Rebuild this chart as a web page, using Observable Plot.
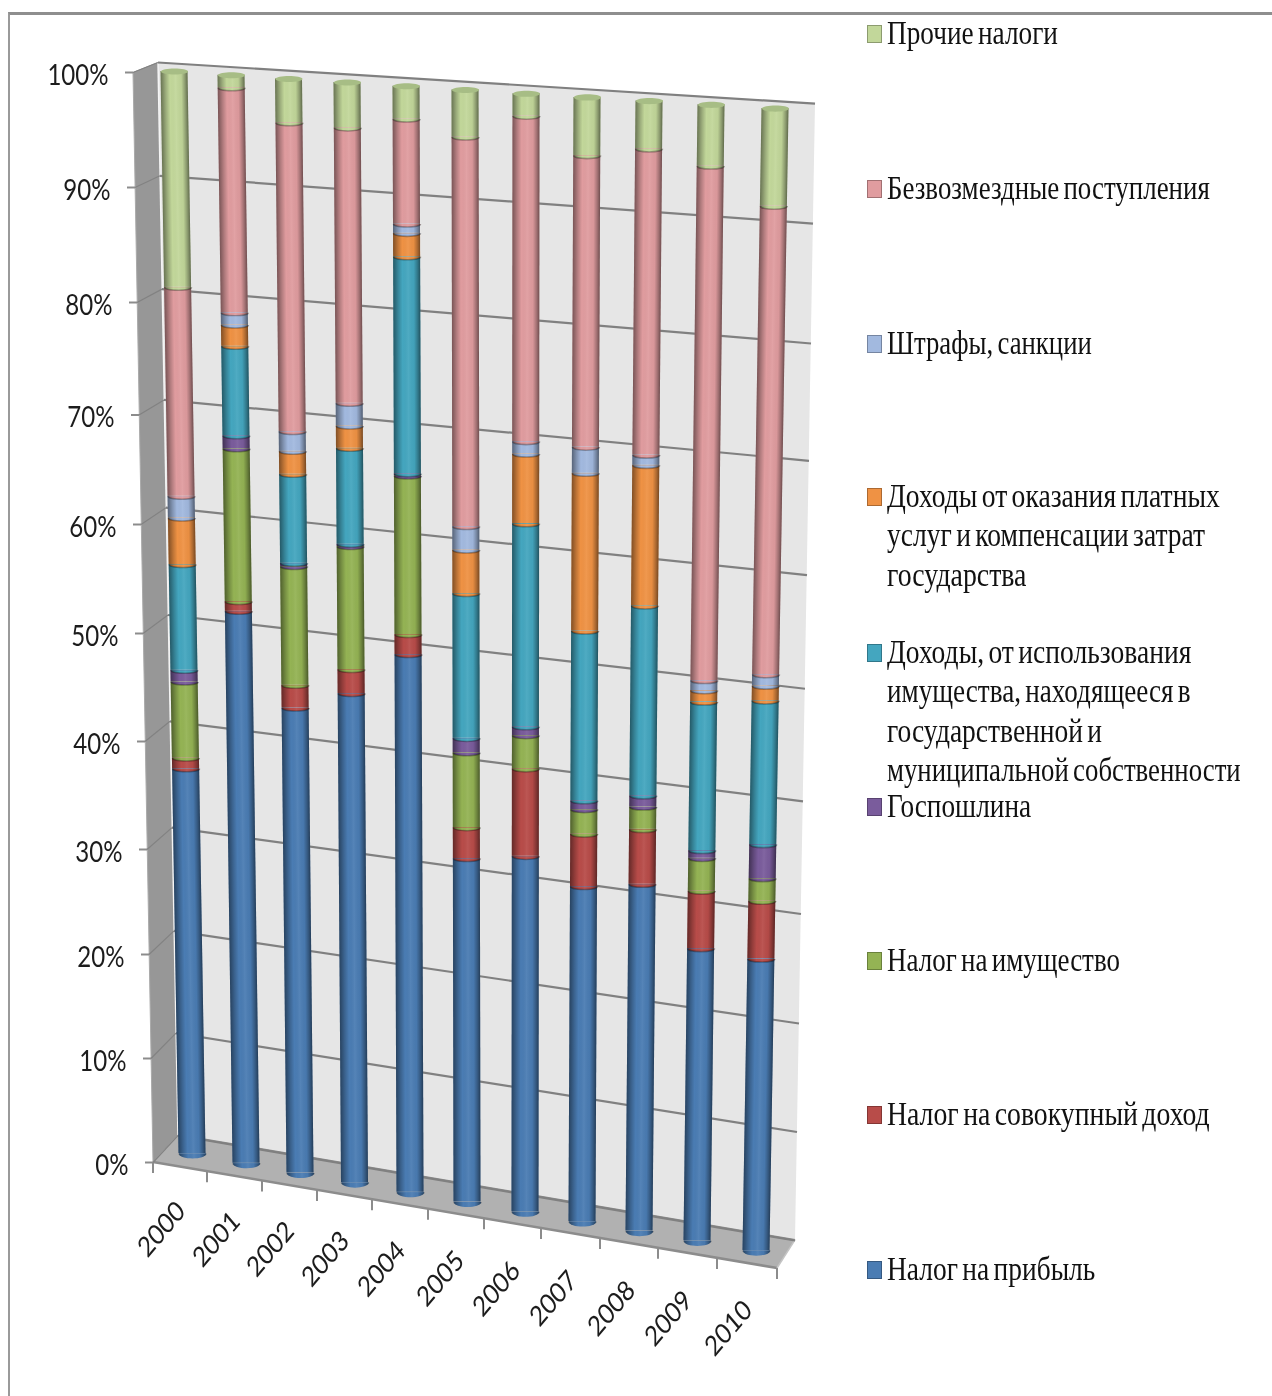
<!DOCTYPE html>
<html lang="ru">
<head>
<meta charset="utf-8">
<script src="https://cdn.jsdelivr.net/npm/d3@7"></script>
<script src="https://cdn.jsdelivr.net/npm/@observablehq/plot@0.6"></script>
<style>
  html, body { margin: 0; padding: 0; background: #fff; }
  #page { position: relative; width: 1272px; height: 1396px; overflow: hidden; background: #fff; filter: blur(0.45px); }
  #page svg { position: absolute; left: 0; top: 0; background: transparent; }
  #frame { position: absolute; left: 8px; top: 12px; right: -4px; bottom: -4px; border-top: 3px solid #8e8e8e; border-left: 2px solid #9a9a9a; }
  .lg { position: absolute; left: 887px; font: 33px/1 "Liberation Serif", serif; color: #111; white-space: nowrap;
        transform-origin: left center; word-spacing: -3px; }
  .sw { position: absolute; left: 867px; width: 13px; height: 16px; border: 1.5px solid rgba(0,0,0,.28); }
</style>
</head>
<body>
<div id="page"><div id="frame"></div></div>
<script>
// ---------- data (percent shares) ----------
const years = ["2000","2001","2002","2003","2004","2005","2006","2007","2008","2009","2010"];
const percentTicks = [0,10,20,30,40,50,60,70,80,90,100];

const profitTax   = [36.9,52.2,43.9,45.9,50.1,32.2,33.1,31.1,32.0,26.9,26.7];
const incomeTax   = [ 1.0, 0.9, 2.1, 2.2, 1.8, 2.8, 7.9, 4.7, 4.9, 5.2, 5.2];
const propertyTax = [ 7.1,14.0,10.9,11.2,14.3, 6.8, 3.0, 2.2, 2.0, 2.9, 2.0];
const stateDuty   = [ 1.1, 1.2, 0.3, 0.2, 0.2, 1.3, 0.8, 0.8, 1.0, 0.7, 3.0];
const assetIncome = [ 9.8, 8.0, 8.1, 8.7,19.0,13.1,18.2,15.2,16.9,13.2,12.7];
const paidServices= [ 4.3, 1.9, 2.1, 2.0, 2.0, 3.9, 6.2,14.0,12.4, 1.0, 1.3];
const fines       = [ 2.0, 1.1, 1.8, 2.0, 0.8, 2.1, 1.1, 2.3, 0.9, 0.9, 1.0];
const transfers   = [18.9,19.6,27.0,23.9, 9.0,33.8,27.8,24.8,25.9,44.1,40.0];
const otherTaxes  = [18.9, 1.1, 3.8, 3.9, 2.8, 4.0, 1.9, 4.9, 4.0, 5.1, 8.1];

const seriesValues = [profitTax,incomeTax,propertyTax,stateDuty,assetIncome,paidServices,fines,transfers,otherTaxes];
const seriesNames = [
  "Налог на прибыль","Налог на совокупный доход","Налог на имущество","Госпошлина",
  "Доходы, от использования имущества, находящееся в государственной и муниципальной собственности",
  "Доходы от оказания платных услуг и компенсации затрат государства",
  "Штрафы, санкции","Безвозмездные поступления","Прочие налоги"
];
const seriesColors = ["#4a7cb3","#b84c49","#94b354","#7a5c9c","#44a6bf","#ef9244","#a2b9df","#e09c9f","#c2d79a"];

// legend: line breaks as in the picture, the y of each first line, the right end of each line
const legendLines = [
  ["Налог на прибыль"],["Налог на совокупный доход"],["Налог на имущество"],["Госпошлина"],
  ["Доходы, от использования","имущества, находящееся в","государственной и","муниципальной собственности"],
  ["Доходы от оказания платных","услуг и компенсации затрат","государства"],
  ["Штрафы, санкции"],["Безвозмездные поступления"],["Прочие налоги"]
];
const legendY = [1270,1115,961,807,653,497,344,189,34];
const legendRight = [[1095],[1210],[1120],[1031],[1191,1191,1102,1241],[1220,1205,1026],[1092],[1210],[1058]];

const rows = seriesNames.flatMap((series,s) => years.map((year,i) => ({year, series, value: seriesValues[s][i]})));

// ---------- 3D look: where each cylinder stands on the sheet ----------
const barTopXs    = [174,231,288.5,347,406,465,526,587,649,711,775];
const barBottomXs = [192,246,300,354.5,410,467,525,582,639,697,756];
const floorTickXs = [153,207,262,317,372,428,484,541,600,658,717,777];
const yearLabelXs = [161,216,270,325,381,440,496,553,611,668,728];
const barTop = i => 71 + 3.7*i,  barBottom = i => 1153 + 9.7*i;
const frontX = v => 153 - 0.2*v;
const backLX = v => 178 - 0.2*v, backRX = v => 795 + 0.2*v;
const backLY = (y,v) => y(v) - (27 - 0.17*v), backRY = (y,v) => 1.043*y(v) + 28;

const NS = "http://www.w3.org/2000/svg";
const bandOf = x => typeof x.bandwidth === "function" ? x.bandwidth() : x.bandwidth;
function wrap(g, t){ const o = document.createElementNS(NS,"g"); o.setAttribute("transform",t); o.appendChild(g); return o; }
function warp(i){
  return (index, scales, values, dims, ctx, next) => {
    const g = next(index, scales, values, dims, ctx);
    const y = scales.y, H = y(0) - y(100);
    const xc = scales.x(years[i]) + bandOf(scales.x)/2;
    const d = (barBottom(i)-barTop(i))/H, f = barTop(i) - d*y(100);
    const c = (barBottomXs[i]-barTopXs[i])/H, e = barTopXs[i] - c*y(100) - xc;
    return wrap(g, `matrix(1,0,${c},${d},${e},${f})`);
  };
}
function place(i){ // year label position, the picture is squeezed sideways
  return (index, scales, values, dims, ctx, next) => {
    const g = next(index, scales, values, dims, ctx);
    g.querySelectorAll("text").forEach(t => t.setAttribute("transform", t.getAttribute("transform").replace("rotate","scale(.85,1) rotate")));
    const xc = scales.x(years[i]) + bandOf(scales.x)/2;
    return wrap(g, `translate(${yearLabelXs[i] - xc},${1229 + 9.9*i - scales.y(0)})`);
  };
}
function squeezeAxis(index, scales, values, dims, ctx, next){
  const g = next(index, scales, values, dims, ctx);
  g.querySelectorAll("text").forEach(t => t.setAttribute("transform", (t.getAttribute("transform")||"") + " translate(0,3) scale(.83,1)"));
  return g;
}
const RX = 13.5;
const arc = ry => ({draw(c){ c.moveTo(-RX,0); c.bezierCurveTo(-RX,ry*1.33,RX,ry*1.33,RX,0); }});
const ellipse = ry => ({draw(c){ c.moveTo(-RX,0); c.bezierCurveTo(-RX,ry*1.33,RX,ry*1.33,RX,0); c.bezierCurveTo(RX,-ry*1.33,-RX,-ry*1.33,-RX,0); c.closePath(); }});

// gradient defs
function defs(){
  const d = document.createElementNS(NS,"defs");
  d.innerHTML = `<linearGradient id="shade" x1="0" x2="1" y1="0" y2="0">
    <stop offset="0" stop-color="#000" stop-opacity=".46"/>
    <stop offset=".18" stop-color="#000" stop-opacity=".2"/>
    <stop offset=".34" stop-color="#000" stop-opacity="0"/>
    <stop offset=".55" stop-color="#fff" stop-opacity=".06"/>
    <stop offset=".76" stop-color="#000" stop-opacity=".03"/>
    <stop offset=".9" stop-color="#000" stop-opacity=".28"/>
    <stop offset="1" stop-color="#000" stop-opacity=".5"/>
  </linearGradient>`;
  return d;
}
// walls, floor and x ticks, built from the y scale
function walls(index, {y}){
  const g = document.createElementNS(NS,"g");
  const poly = (pts, fill) => { const p = document.createElementNS(NS,"polygon"); p.setAttribute("points",pts.map(q=>q.join(",")).join(" ")); p.setAttribute("fill",fill); g.appendChild(p); };
  const line = (a,b,stroke,w) => { const l = document.createElementNS(NS,"line"); l.setAttribute("x1",a[0]);l.setAttribute("y1",a[1]);l.setAttribute("x2",b[0]);l.setAttribute("y2",b[1]);l.setAttribute("stroke",stroke);l.setAttribute("stroke-width",w); g.appendChild(l); };
  const F = v => [frontX(v), y(v)], BL = v => [backLX(v), backLY(y,v)], BR = v => [backRX(v), backRY(y,v)];
  const frontR = [777, 1268];
  poly([BL(100),BR(100),BR(0),BL(0)], "#e6e6e6");
  poly([F(100),BL(100),BL(0),F(0)], "#979797");
  poly([F(0),BL(0),BR(0),frontR], "#b1b1b1");
  line(BL(0),BR(0),"#8c8c8c",2);
  line(F(0),frontR,"#8c8c8c",2.5);
  line(BR(0),frontR,"#c4c4c4",1.5);
  line(F(100),F(0),"#aaaaaa",1);
  line(BL(100),BL(0),"#f4f4f4",1.5);
  floorTickXs.forEach(x => { const yy = 1162 + (x-153)*0.17; line([x,yy],[x,yy+11],"#8c8c8c",2); });
  return g;
}
// the grid lies on the slanted back wall
function gridRender(index, scales, values, dims, ctx, next){
  const g = next(index, scales, values, dims, ctx);
  g.querySelectorAll("line").forEach((l,k) => {
    const v = percentTicks[index[k]];
    l.setAttribute("x1",backLX(v)); l.setAttribute("y1",backLY(scales.y,v));
    l.setAttribute("x2",backRX(v)); l.setAttribute("y2",backRY(scales.y,v));
  });
  return g;
}
function diagRender(index, scales, values, dims, ctx, next){
  const g = next(index, scales, values, dims, ctx);
  g.querySelectorAll("line").forEach((l,k) => {
    const v = percentTicks[index[k]];
    l.setAttribute("x1",frontX(v)); l.setAttribute("y1",scales.y(v));
    l.setAttribute("x2",backLX(v)); l.setAttribute("y2",backLY(scales.y,v));
  });
  return g;
}

const yearMarks = years.flatMap((year,i) => {
  const rowsI = rows.filter(r => r.year === year);
  const r = warp(i);
  return [
    Plot.barY(rowsI, {x:"year", y:"value", z:"series", fill:"series", render:r}),
    Plot.dot(rowsI, Plot.stackY1({x:"year", y:"value", z:"series", fill:"series", symbol:arc(3), stroke:"#000", strokeOpacity:0.3, strokeWidth:1.5, render:r})),
    Plot.dot([year], {x:d=>d, y:()=>0, symbol:arc(5), fill:seriesColors[0], render:r}),
    Plot.barY([year], {x:d=>d, y1:()=>0, y2:()=>100, fill:"url(#shade)", render:r}),
    Plot.dot([year], {x:d=>d, y:()=>0, symbol:arc(5), fill:"url(#shade)", render:r}),
    Plot.dot([year], {x:d=>d, y:()=>100, symbol:ellipse(3), fill:"#a7bd85", render:r}),
    Plot.text([year], {x:d=>d, y:()=>0, text:d=>d, rotate:-45, fontSize:28, fontFamily:"Lato", fill:"#1c1c1c", render:place(i)})
  ];
});

const plot = Plot.plot({
  width: 1272, height: 1396,
  marginTop: 0, marginRight: 0, marginBottom: 0, marginLeft: 0,
  style: {fontFamily: "Lato", background: "transparent"},
  x: {type:"band", domain: years, range: [150,800], padding: 0.521, axis: null},
  y: {type:"linear", domain: percentTicks, range: [1162,1058,954,849,741,633,524,414.5,302,187,72], axis: null},
  color: {domain: seriesNames, range: seriesColors},
  marks: [
    defs,
    walls,
    Plot.ruleY(percentTicks, {y:d=>d, stroke:"#808080", strokeWidth:2.2, render:gridRender}),
    Plot.ruleY(percentTicks, {y:d=>d, stroke:"#828282", strokeWidth:1.2, render:diagRender}),
    ...percentTicks.map(v => Plot.axisY([v], {
      anchor:"left", tickSize:8, tickPadding:17, dx:frontX(v),
      tickFormat:d=>d+"%", fontSize:29, stroke:"#8c8c8c", strokeWidth:2, fill:"#1c1c1c", label:null, render:squeezeAxis
    })),
    ...yearMarks
  ]
});
const page = document.getElementById("page");
page.appendChild(plot);

// legend
legendLines.forEach((lines,s) => {
  const sw = document.createElement("div");
  sw.className = "sw"; sw.style.top = (legendY[s]-9)+"px"; sw.style.background = seriesColors[s];
  page.appendChild(sw);
  lines.forEach((t,k) => {
    const el = document.createElement("div");
    el.className = "lg"; el.textContent = t;
    el.style.top = (legendY[s] + k*39.4 - 17)+"px";
    page.appendChild(el);
    el.style.transform = `scaleX(${(legendRight[s][k]-887)/el.offsetWidth})`;
  });
});
</script>
</body>
</html>
